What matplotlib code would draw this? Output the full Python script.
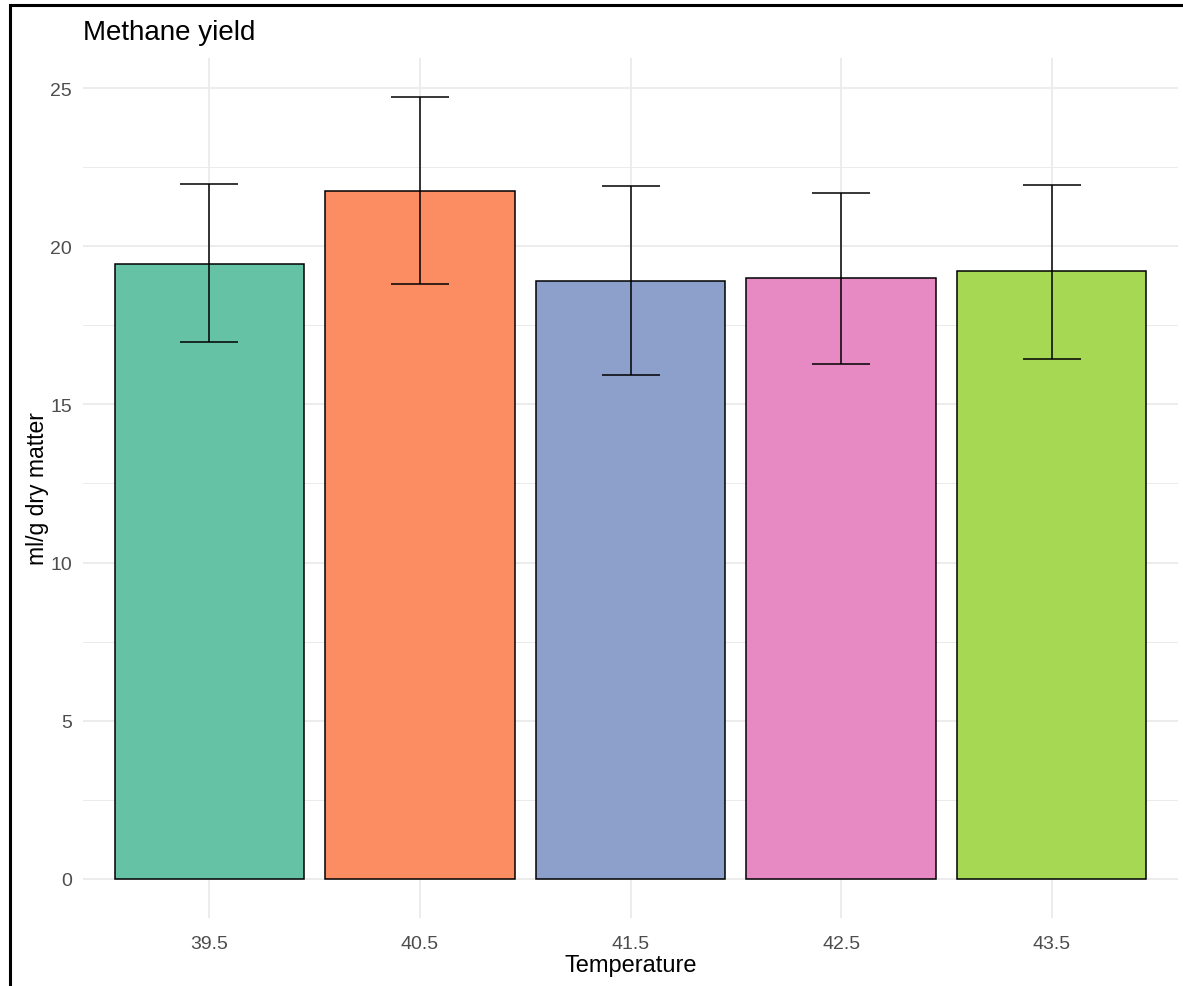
import matplotlib
matplotlib.use("Agg")
import matplotlib.pyplot as plt
from matplotlib.patches import Rectangle
import numpy as np

plt.rcParams['font.family'] = ['Liberation Sans', 'DejaVu Sans']

temps = ["39.5", "40.5", "41.5", "42.5", "43.5"]
yield_mean = [19.44, 21.75, 18.91, 19.00, 19.22]
err_low = [16.98, 18.81, 15.94, 16.29, 16.45]
err_high = [21.97, 24.72, 21.91, 21.69, 21.94]
colors = ["#66C2A5", "#FC8D62", "#8DA0CB", "#E78AC3", "#A6D854"]

W, H = 1183, 987
fig = plt.figure(figsize=(W / 100, H / 100), dpi=100)
ax = fig.add_axes([83 / W, 1 - 919 / H, (1178 - 83) / W, (919 - 59) / H])

x = np.arange(len(temps))
ax.bar(x, yield_mean, width=0.9, color=colors, edgecolor="black", linewidth=1.1, zorder=3)
mean = np.array(yield_mean)
yerr = [mean - np.array(err_low), np.array(err_high) - mean]
ax.errorbar(x, mean, yerr=yerr, fmt="none", ecolor="black", elinewidth=1.1,
            capsize=21, capthick=1.1, zorder=4)

ax.set_xlim(-0.6, len(temps) - 0.4)
ax.set_ylim(-1.236, 25.95)
ax.set_xticks(x)
ax.set_xticklabels(temps)
ax.set_yticks([0, 5, 10, 15, 20, 25])
ax.set_yticks([2.5, 7.5, 12.5, 17.5, 22.5], minor=True)
ax.grid(True, which="major", color="#EBEBEB", linewidth=1.3, zorder=0)
ax.grid(True, which="minor", axis="y", color="#EBEBEB", linewidth=0.7, zorder=0)
ax.set_axisbelow(True)
for s in ax.spines.values():
    s.set_visible(False)
ax.tick_params(which="both", length=0, labelsize=14, labelcolor="#4D4D4D", pad=8)
ax.tick_params(axis="x", pad=12)

ax.set_xlabel("Temperature", fontsize=17, color="black", labelpad=2)
ax.set_ylabel("ml/g dry matter", fontsize=16.5, color="black", labelpad=1)
fig.text(83 / W, 1 - 33 / H, "Methane yield", fontsize=20, ha="left", va="center")

fig.patches.append(Rectangle((10 / W, -0.05), 1.2, 1 - 6 / H + 0.05, transform=fig.transFigure,
                             fill=False, edgecolor="black", linewidth=2.2, zorder=10))

fig.savefig("out.png", dpi=100)
